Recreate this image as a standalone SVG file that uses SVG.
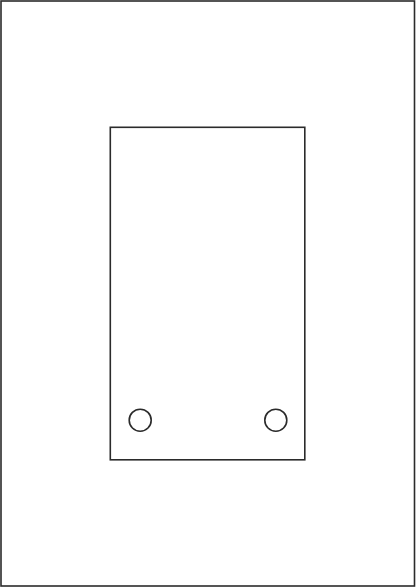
<svg xmlns="http://www.w3.org/2000/svg" width="416" height="588" viewBox="0 0 416 588">
<style>.ln{fill:none;stroke:#2b2b2b;stroke-width:1.6}</style>
<rect width="416" height="588" fill="#fff"/>
<g id="frame"><rect class="ln" x="1" y="1" width="413.5" height="585"/></g>
<g id="panel"><rect class="ln" x="110.3" y="127.3" width="194.5" height="332.5"/></g>
<g id="hole-left"><circle class="ln" cx="140.2" cy="420.2" r="11"/></g>
<g id="hole-right"><circle class="ln" cx="275.8" cy="420.2" r="11"/></g>
</svg>
